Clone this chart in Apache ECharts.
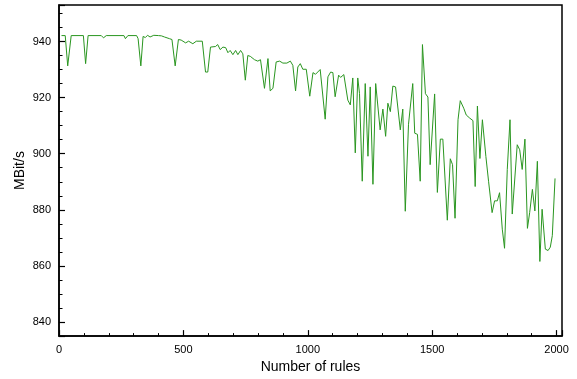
<!DOCTYPE html>
<html>
<head>
<meta charset="utf-8">
<script src="https://cdn.jsdelivr.net/npm/echarts@6/dist/echarts.min.js"></script>
<style>
  html, body { margin: 0; padding: 0; background: #fff; }
  #chart { width: 577px; height: 379px; }
</style>
</head>
<body>
<div id="chart"></div>
<script>
// number of rules (x) and measured throughput in MBit/s (y)
const rules = [
  10, 25, 35, 49, 98, 107, 117, 170, 179, 190, 261, 267, 277, 312, 318, 329, 338, 347, 356, 366,
  381, 400, 412, 424, 431, 444, 454, 467, 480, 491, 498, 509, 521, 538, 552, 576, 589, 598, 609, 629,
  638, 648, 659, 670, 679, 688, 699, 710, 719, 730, 739, 749, 759, 769, 786, 799, 810, 826, 840, 849,
  860, 873, 887, 900, 916, 930, 940, 951, 960, 970, 980, 994, 1008, 1021, 1031, 1050, 1070, 1081, 1092, 1101,
  1110, 1124, 1132, 1145, 1152, 1161, 1171, 1181, 1191, 1201, 1208, 1219, 1231, 1242, 1251, 1262, 1273, 1291, 1302, 1313,
  1322, 1332, 1342, 1353, 1372, 1382, 1392, 1405, 1422, 1430, 1441, 1452, 1461, 1473, 1483, 1492, 1510, 1521, 1533, 1543,
  1561, 1573, 1582, 1592, 1604, 1613, 1627, 1637, 1651, 1664, 1673, 1682, 1692, 1702, 1716, 1727, 1741, 1751, 1762, 1771,
  1782, 1791, 1802, 1813, 1822, 1842, 1852, 1862, 1873, 1883, 1892, 1903, 1913, 1923, 1933, 1942, 1955, 1966, 1975, 1983,
  1994
];
const mbits = [
  942.1, 942.1, 931.3, 942.1, 942.1, 932.1, 942.1, 942.1, 941.3, 942.1, 942.1, 941.0, 942.1, 942.1, 941.0, 931.3, 941.8, 941.4, 942.2, 941.6,
  942.2, 942.1, 942.0, 941.6, 942.1, 941.0, 940.7, 931.3, 940.7, 940.5, 940.9, 939.5, 940.1, 939.2, 940.1, 940.1, 929.1, 929.1, 938.0, 938.2,
  938.9, 937.1, 938.0, 937.8, 936.0, 936.8, 935.3, 936.8, 935.3, 936.8, 935.6, 926.2, 935.0, 934.7, 933.5, 933.0, 933.5, 923.3, 933.9, 922.4,
  923.3, 932.7, 933.0, 932.3, 932.3, 933.0, 931.5, 922.4, 930.9, 932.1, 930.1, 930.1, 920.5, 928.9, 928.3, 930.0, 912.3, 927.4, 929.1, 928.9,
  920.3, 928.0, 927.2, 928.2, 927.8, 919.1, 917.4, 927.0, 900.3, 927.0, 921.5, 890.2, 925.0, 899.1, 923.8, 889.1, 925.0, 908.5, 915.9, 906.2,
  918.0, 915.0, 924.1, 923.8, 908.5, 915.9, 879.5, 910.5, 925.0, 907.3, 906.9, 890.2, 938.9, 921.4, 920.2, 896.1, 921.3, 886.2, 905.2, 905.2,
  876.3, 898.2, 896.1, 877.0, 912.1, 918.9, 916.2, 913.8, 912.7, 911.8, 888.3, 917.0, 898.3, 912.1, 899.0, 890.0, 879.0, 883.2, 883.2, 886.1,
  873.1, 866.3, 894.4, 912.1, 878.5, 903.2, 901.4, 894.4, 905.2, 873.4, 879.0, 887.3, 879.6, 897.3, 861.6, 880.2, 866.0, 865.5, 866.7, 870.8,
  891.2
];

const FONT = "'Liberation Sans', Arial, sans-serif";
const BLACK = "#000";
const LINE_GREEN = "#2a9620";

const chart = echarts.init(document.getElementById("chart"), null, { renderer: "canvas" });

chart.setOption({
  animation: false,
  backgroundColor: "#fff",
  grid: {
    left: 59, right: 15, top: 5, bottom: 41,
    show: true, borderColor: BLACK, borderWidth: 1.5, backgroundColor: "transparent"
  },
  xAxis: {
    type: "value",
    min: 0,
    max: 2022,
    interval: 500,
    name: "Number of rules",
    nameLocation: "middle",
    nameGap: 23,
    nameTextStyle: { color: BLACK, fontFamily: FONT, fontSize: 14 },
    axisLine: { show: true, lineStyle: { color: BLACK, width: 1.5 } },
    axisTick: { show: true, inside: true, length: 6, lineStyle: { color: BLACK, width: 1.2 } },
    minorTick: { show: true, splitNumber: 5, length: 3, lineStyle: { color: BLACK, width: 1 } },
    axisLabel: {
      color: BLACK, fontFamily: FONT, fontSize: 11, margin: 8, showMaxLabel: false,
      formatter: (v) => String(v)
    },
    splitLine: { show: false }
  },
  yAxis: {
    type: "value",
    min: 835,
    max: 953,
    splitNumber: 5,
    name: "MBit/s",
    nameLocation: "middle",
    nameGap: 32,
    nameMoveOverlap: false,
    nameTextStyle: { color: BLACK, fontFamily: FONT, fontSize: 14 },
    axisLine: { show: true, lineStyle: { color: BLACK, width: 1.5 } },
    axisTick: { show: true, inside: true, length: 6, lineStyle: { color: BLACK, width: 1.2 } },
    minorTick: { show: true, splitNumber: 4, length: 3.5, lineStyle: { color: BLACK, width: 1 } },
    axisLabel: {
      color: BLACK, fontFamily: FONT, fontSize: 11, margin: 8, showMinLabel: false, showMaxLabel: false,
      formatter: (v) => String(v)
    },
    splitLine: { show: false }
  },
  series: [
    {
      type: "line",
      data: rules.map((r, i) => [r, mbits[i]]),
      showSymbol: false,
      symbol: "none",
      lineStyle: { color: LINE_GREEN, width: 1 },
      itemStyle: { color: LINE_GREEN }
    }
  ]
});
</script>
</body>
</html>
